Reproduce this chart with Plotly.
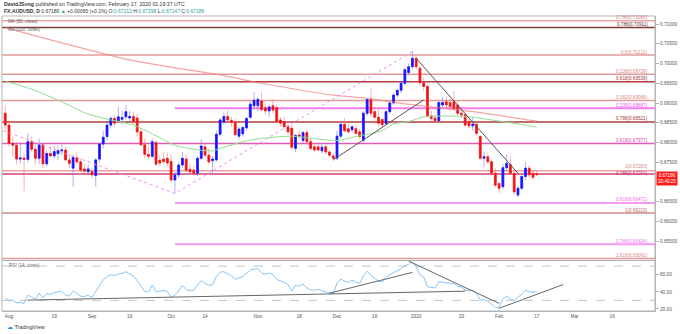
import pandas as pd
import plotly.graph_objects as go

# ---------------- data ----------------
holidays = ["2019-12-25", "2020-01-01"]
dates = [d.strftime("%Y-%m-%d") for d in pd.bdate_range("2019-07-31", "2020-02-17")
         if d.strftime("%Y-%m-%d") not in holidays]
axis_days = [d.strftime("%Y-%m-%d") for d in pd.bdate_range("2019-07-29", "2020-04-10")
             if d.strftime("%Y-%m-%d") not in holidays]

opens = [0.6874,
 0.6844, 0.6798, 0.6793, 0.6758, 0.6761, 0.6757, 0.6802, 0.6783, 0.6760, 0.6794, 0.6746, 0.6772, 0.6766, 0.6772, 0.6779, 0.6781, 0.6756, 0.6735, 0.6762, 0.6751, 0.6733, 0.6726,
 0.6726, 0.6716, 0.6758, 0.6796, 0.6815, 0.6844, 0.6861, 0.6855, 0.6859, 0.6865, 0.6862, 0.6866, 0.6862, 0.6827, 0.6794, 0.6770, 0.6765, 0.6800, 0.6755, 0.6758, 0.6760,
 0.6752, 0.6705, 0.6718, 0.6743, 0.6758, 0.6732, 0.6730, 0.6722, 0.6760, 0.6789, 0.6768, 0.6754, 0.6756, 0.6821, 0.6852, 0.6866, 0.6856, 0.6851, 0.6816, 0.6822, 0.6837, 0.6864, 0.6893,
 0.6893, 0.6905, 0.6888, 0.6880, 0.6893, 0.6888, 0.6857, 0.6853, 0.6840, 0.6836, 0.6785, 0.6819, 0.6805, 0.6825, 0.6802, 0.6789, 0.6789, 0.6779, 0.6789, 0.6776, 0.6766,
 0.6760, 0.6816, 0.6846, 0.6835, 0.6832, 0.6835, 0.6827, 0.6806, 0.6874, 0.6909, 0.6878, 0.6864, 0.6858, 0.6848, 0.6878, 0.6900, 0.6920, 0.6932, 0.6950, 0.6977, 0.6992,
 0.7013, 0.6988, 0.6951, 0.6942, 0.6867, 0.6862, 0.6855, 0.6895, 0.6903, 0.6901, 0.6903, 0.6895, 0.6874, 0.6870, 0.6853, 0.6842, 0.6846, 0.6815, 0.6760, 0.6764, 0.6751, 0.6722,
 0.6696, 0.6688, 0.6736, 0.6744, 0.6722, 0.6667, 0.6684, 0.6714, 0.6735, 0.6722, 0.67213]
highs = [0.6895,
 0.6857, 0.6815, 0.6800, 0.6798, 0.6772, 0.6823, 0.6815, 0.6795, 0.6810, 0.6800, 0.6780, 0.6790, 0.6790, 0.6792, 0.6795, 0.6790, 0.6770, 0.6770, 0.6775, 0.6760, 0.6745, 0.6745,
 0.6735, 0.6760, 0.6800, 0.6830, 0.6850, 0.6865, 0.6868, 0.6891, 0.6880, 0.6895, 0.6880, 0.6878, 0.6872, 0.6835, 0.6810, 0.6790, 0.6810, 0.6805, 0.6768, 0.6775, 0.6775,
 0.6770, 0.6725, 0.6750, 0.6775, 0.6770, 0.6745, 0.6740, 0.6765, 0.6808, 0.6795, 0.6785, 0.6765, 0.6830, 0.6862, 0.6875, 0.6882, 0.6865, 0.6860, 0.6840, 0.6842, 0.6865, 0.6905, 0.6928,
 0.6915, 0.6929, 0.6900, 0.6895, 0.6910, 0.6898, 0.6865, 0.6865, 0.6848, 0.6845, 0.6822, 0.6830, 0.6830, 0.6832, 0.6810, 0.6798, 0.6800, 0.6795, 0.6795, 0.6780, 0.6772,
 0.6830, 0.6850, 0.6862, 0.6848, 0.6845, 0.6845, 0.6835, 0.6880, 0.6912, 0.6939, 0.6890, 0.6885, 0.6862, 0.6882, 0.6905, 0.6925, 0.6936, 0.6955, 0.6990, 0.7000, 0.7032,
 0.7020, 0.6995, 0.6965, 0.6948, 0.6880, 0.6870, 0.6905, 0.6915, 0.6915, 0.6910, 0.6930, 0.6905, 0.6882, 0.6875, 0.6860, 0.6865, 0.6852, 0.6818, 0.6778, 0.6775, 0.6755, 0.6735,
 0.6700, 0.6745, 0.6770, 0.6765, 0.6728, 0.6690, 0.6718, 0.6750, 0.6742, 0.6730, 0.67298]
lows = [0.6832,
 0.6790, 0.6764, 0.6745, 0.6747, 0.6677, 0.6750, 0.6775, 0.6745, 0.6745, 0.6735, 0.6740, 0.6762, 0.6760, 0.6755, 0.6768, 0.6752, 0.6735, 0.6688, 0.6745, 0.6725, 0.6722, 0.6720,
 0.6709, 0.6688, 0.6750, 0.6785, 0.6805, 0.6835, 0.6840, 0.6850, 0.6845, 0.6858, 0.6850, 0.6845, 0.6815, 0.6790, 0.6760, 0.6758, 0.6760, 0.6740, 0.6740, 0.6745, 0.6740,
 0.6700, 0.6671, 0.6710, 0.6735, 0.6725, 0.6720, 0.6715, 0.6715, 0.6755, 0.6760, 0.6745, 0.6722, 0.6750, 0.6815, 0.6845, 0.6850, 0.6840, 0.6815, 0.6808, 0.6815, 0.6830, 0.6858, 0.6885,
 0.6880, 0.6878, 0.6870, 0.6865, 0.6875, 0.6850, 0.6840, 0.6835, 0.6820, 0.6780, 0.6775, 0.6808, 0.6798, 0.6795, 0.6780, 0.6775, 0.6776, 0.6772, 0.6770, 0.6762, 0.6754,
 0.6755, 0.6810, 0.6825, 0.6822, 0.6825, 0.6820, 0.6808, 0.6800, 0.6868, 0.6865, 0.6860, 0.6840, 0.6836, 0.6843, 0.6872, 0.6895, 0.6915, 0.6925, 0.6945, 0.6970, 0.6985,
 0.6985, 0.6945, 0.6930, 0.6862, 0.6850, 0.6850, 0.6850, 0.6890, 0.6885, 0.6880, 0.6880, 0.6868, 0.6862, 0.6840, 0.6835, 0.6830, 0.6818, 0.6755, 0.6738, 0.6745, 0.6715, 0.6685,
 0.6672, 0.6682, 0.6728, 0.6718, 0.6668, 0.6662, 0.6680, 0.6705, 0.6710, 0.6705, 0.67147]
closes = [0.6844,
 0.6798, 0.6793, 0.6758, 0.6761, 0.6757, 0.6802, 0.6783, 0.6760, 0.6794, 0.6746, 0.6772, 0.6766, 0.6777, 0.6779, 0.6781, 0.6756, 0.6747, 0.6762, 0.6751, 0.6730, 0.6728, 0.6733,
 0.6718, 0.6756, 0.6796, 0.6813, 0.6844, 0.6861, 0.6849, 0.6865, 0.6863, 0.6878, 0.6866, 0.6853, 0.6827, 0.6794, 0.6770, 0.6765, 0.6802, 0.6745, 0.6748, 0.6752, 0.6748,
 0.6705, 0.6718, 0.6743, 0.6760, 0.6730, 0.6726, 0.6722, 0.6760, 0.6791, 0.6768, 0.6751, 0.6758, 0.6821, 0.6857, 0.6866, 0.6857, 0.6851, 0.6820, 0.6834, 0.6838, 0.6861, 0.6897, 0.6907,
 0.6909, 0.6883, 0.6880, 0.6890, 0.6882, 0.6853, 0.6849, 0.6840, 0.6827, 0.6788, 0.6818, 0.6815, 0.6825, 0.6802, 0.6785, 0.6781, 0.6781, 0.6788, 0.6776, 0.6768, 0.6760,
 0.6816, 0.6846, 0.6830, 0.6827, 0.6840, 0.6823, 0.6815, 0.6874, 0.6909, 0.6874, 0.6864, 0.6849, 0.6845, 0.6878, 0.6900, 0.6920, 0.6932, 0.6950, 0.6984, 0.6992, 0.7013,
 0.6992, 0.6951, 0.6942, 0.6867, 0.6861, 0.6855, 0.6901, 0.6901, 0.6895, 0.6891, 0.6886, 0.6874, 0.6870, 0.6844, 0.6842, 0.6846, 0.6823, 0.6760, 0.6764, 0.6751, 0.6722, 0.6692,
 0.6684, 0.6736, 0.6747, 0.6722, 0.6675, 0.6684, 0.6714, 0.6735, 0.6718, 0.67121, 0.67186]

rsi = [33,
 30, 30, 27, 27.5, 26.5, 36, 34, 31, 38.5, 33, 38, 37, 39, 40, 40.5, 36, 35, 41, 38, 35, 34.5, 36,
 33.5, 40, 47.5, 54, 58, 60, 59, 61, 61.5, 63.5, 61, 58.5, 53, 47, 40.5, 40, 48, 40, 41, 41.5, 40.5,
 33.5, 36, 41, 47.5, 42.5, 41.5, 42, 48, 53, 50, 47.5, 48.5, 58, 63, 63.5, 61, 59, 54.5, 56.5, 57.5, 61, 65.5, 66.5,
 67, 62, 60.5, 62, 60, 54.5, 53, 51, 48.5, 41, 48, 46.5, 49, 44.5, 42, 42, 43, 41, 40, 38.5, 37.5,
 50, 55, 52.5, 51, 53.5, 51.5, 49.5, 58.5, 64, 59, 56, 52.5, 51.5, 57, 60, 62.5, 64, 67, 70.5, 72, 75,
 69, 60, 57, 46, 45.5, 44.5, 51.5, 51.5, 50.5, 50, 49.5, 46.5, 45.5, 42, 41.5, 42, 38.5, 30, 31, 29, 25.5, 22,
 21.5, 32, 35, 31.5, 29.5, 33, 37.5, 42, 40, 39.5, 40]

ma50_dates = ["2019-07-31", "2019-08-09", "2019-08-21", "2019-08-30", "2019-09-09", "2019-09-17",
              "2019-09-24", "2019-10-02", "2019-10-09", "2019-10-16", "2019-10-18", "2019-10-30",
              "2019-11-14", "2019-11-21", "2019-12-02", "2019-12-09", "2019-12-18", "2019-12-23",
              "2019-12-30", "2020-01-06", "2020-01-14", "2020-01-22", "2020-01-30", "2020-02-10",
              "2020-02-17"]
ma50_vals = [0.6955, 0.6935, 0.6903, 0.6872, 0.6857, 0.6844, 0.6822, 0.6793, 0.6783, 0.6779,
             0.6785, 0.6806, 0.6816, 0.6811, 0.6805, 0.6815, 0.6830, 0.6847, 0.6853, 0.6865,
             0.6867, 0.6865, 0.6857, 0.6847, 0.6839]
ma200_dates = ["2019-07-31", "2019-08-16", "2019-09-16", "2019-10-02", "2019-10-18", "2019-11-04",
               "2019-11-29", "2019-12-12", "2019-12-26", "2020-01-23", "2020-02-17"]
ma200_vals = [0.7091, 0.7060, 0.7009, 0.6989, 0.6971, 0.6950, 0.6920, 0.6912, 0.6899, 0.6878, 0.6854]

level_prices = [0.71080, 0.70911, 0.70212, 0.69729, 0.69539, 0.69066, 0.68867, 0.68521,
                0.67977, 0.67283, 0.67201, 0.66471, 0.66215, 0.65424, 0.65061]
level_labels = ["0.786(0.71080)", "0.786(0.70911)", "0.5(0.70212)", "0.236(0.69729)",
                "0.618(0.69539)", "0.382(0.69066)", "0.236(0.68867)", "0.786(0.68521)",
                "0.618(0.67977)", "1(0.67283)", "0.786(0.67201)", "0.618(0.66471)",
                "1(0.66215)", "0.786(0.65424)", "1.618(0.65061)"]
level_start = [None, None, None, None, None, None, "2019-10-02", None,
               None, None, None, "2019-10-02", None, "2019-10-02", None]

fib_path_dates = ["2019-07-29", "2019-10-02", "2019-12-31"]
fib_path_vals = [0.6835, 0.6671, 0.7030]
trend_up_dates = ["2019-11-29", "2020-01-06"]
trend_up_vals = [0.6756, 0.6908]
trend_dn_dates = ["2020-01-02", "2020-02-10"]
trend_dn_vals = [0.7013, 0.6722]

rsi_lines = [
    (["2019-08-08", "2020-01-21"], [30.35, 40.75]),
    (["2019-11-28", "2019-12-31"], [38.4, 62.7]),
    (["2019-12-30", "2020-02-03"], [75.8, 26.5]),
    (["2020-02-03", "2020-02-26"], [20.75, 48.5]),
]

tick_dates = ["2019-08-01", "2019-08-19", "2019-09-02", "2019-09-16", "2019-10-01", "2019-10-14",
              "2019-11-01", "2019-11-18", "2019-12-02", "2019-12-16", "2020-01-02", "2020-01-20",
              "2020-02-03", "2020-02-17", "2020-03-02", "2020-03-16"]
tick_text = ["Aug", "19", "Sep", "16", "Oct", "14", "Nov", "18", "Dec", "16", "2020", "20",
             "Feb", "17", "Mar", "16"]
# 0.67000 is hidden behind the live-price label in the reference
price_ticks = [0.655, 0.660, 0.665, 0.675, 0.680, 0.685, 0.690, 0.695, 0.700, 0.705, 0.710]
rsi_ticks = [20, 40, 60]

# ---------------- styles ----------------
level_colors = ["#eba3a3", "#7d3b3b", "#e59a9a", "#e59a9a", "#b23b3b", "#e59a9a", "#f27cf2",
                "#b23b3b", "#e05ab8", "#e6a0a0", "#d2427a", "#f59af5", "#d08a8a", "#f59af5",
                "#e59a9a"]
label_colors = ["#d98585", "#6b3030", "#d98585", "#d98585", "#a83232", "#d98585", "#ee55ee",
                "#a83232", "#d845b0", "#d98585", "#c83470", "#ee70ee", "#c07070", "#ee70ee",
                "#d98585"]
level_widths = [1.5, 1.5, 1.5, 1.5, 1.5, 1.5, 2, 1.5, 1.5, 1.5, 1.5, 2, 1.5, 2, 1.5]
label_shift = [0, 0, 0, 0, 0, 0, 0, 0, 0, 1, -2, 0, 0, 0, 0]
FONT = "Liberation Sans, Arial, sans-serif"
UP, DN = "#1414ff", "#f01414"
UPW, DNW = "rgba(110,110,255,0.55)", "rgba(255,110,110,0.55)"

fig = go.Figure()

# candles: wicks (light) then bodies (solid)
fig.add_trace(go.Candlestick(
    x=dates, open=opens, high=highs, low=lows, close=closes,
    increasing=dict(line=dict(color=UPW, width=1), fillcolor=UPW),
    decreasing=dict(line=dict(color=DNW, width=1), fillcolor=DNW),
    whiskerwidth=0, hoverinfo="skip", showlegend=False, xaxis="x", yaxis="y"))
body_hi = [max(o, c) for o, c in zip(opens, closes)]
body_lo = [min(o, c) for o, c in zip(opens, closes)]
fig.add_trace(go.Candlestick(
    x=dates, open=opens, high=body_hi, low=body_lo, close=closes,
    increasing=dict(line=dict(color=UP, width=0.6), fillcolor=UP),
    decreasing=dict(line=dict(color=DN, width=0.6), fillcolor=DN),
    whiskerwidth=0, hoverinfo="skip", showlegend=False, xaxis="x", yaxis="y"))

# moving averages
fig.add_trace(go.Scatter(x=ma50_dates, y=ma50_vals, mode="lines",
                         line=dict(color="#8fe08f", width=1, shape="spline", smoothing=0.8),
                         hoverinfo="skip", showlegend=False))
fig.add_trace(go.Scatter(x=ma200_dates, y=ma200_vals, mode="lines",
                         line=dict(color="rgba(240,125,125,0.7)", width=1.2, shape="spline", smoothing=0.6),
                         hoverinfo="skip", showlegend=False))

# drawn lines
fig.add_trace(go.Scatter(x=fib_path_dates, y=fib_path_vals, mode="lines",
                         line=dict(color="#f58cf5", width=1, dash="dot"),
                         hoverinfo="skip", showlegend=False))
for xs, ys in [(trend_up_dates, trend_up_vals), (trend_dn_dates, trend_dn_vals)]:
    fig.add_trace(go.Scatter(x=xs, y=ys, mode="lines", line=dict(color="#555555", width=1),
                             hoverinfo="skip", showlegend=False))

# RSI
fig.add_trace(go.Scatter(x=dates, y=rsi, mode="lines", line=dict(color="#86c5f7", width=1),
                         xaxis="x2", yaxis="y2", hoverinfo="skip", showlegend=False))
for xs, ys in rsi_lines:
    fig.add_trace(go.Scatter(x=xs, y=ys, mode="lines", line=dict(color="#666666", width=1),
                             xaxis="x2", yaxis="y2", hoverinfo="skip", showlegend=False))

shapes = []
annotations = []
for p, lab, st, col, lcol, w, sh in zip(level_prices, level_labels, level_start, level_colors,
                                        label_colors, level_widths, label_shift):
    if st is None:
        shapes.append(dict(type="line", xref="paper", yref="y", x0=0, x1=1, y0=p, y1=p,
                           line=dict(color=col, width=w), layer="below"))
    else:
        shapes.append(dict(type="line", xref="x", yref="y", x0=st, x1=axis_days[-1], y0=p, y1=p,
                           line=dict(color=col, width=w), layer="below"))
    annotations.append(dict(xref="paper", yref="y", x=0.9923, y=p, xanchor="right", yanchor="bottom",
                            text=lab, showarrow=False, font=dict(family=FONT, size=4.6, color=lcol),
                            yshift=-1.5 + sh))

for lvl in (70, 30):
    shapes.append(dict(type="line", xref="paper", yref="y2", x0=0, x1=1, y0=lvl, y1=lvl,
                       line=dict(color="#c4c4c4", width=1, dash="dash"), layer="below"))
# frame
shapes.append(dict(type="rect", xref="paper", yref="paper", x0=0, x1=1, y0=0, y1=1,
                   line=dict(color="#b4b4b4", width=1), layer="above"))

teal = "#26a69a"
annotations += [
    dict(xref="paper", yref="paper", x=0.0, y=1.0407, xanchor="left", yanchor="middle", showarrow=False,
         text="<b>DavidJSong</b> published on TradingView.com, February 17, 2020 01:19:37 UTC",
         font=dict(family=FONT, size=5.2, color="#333")),
    dict(xref="paper", yref="paper", x=0.0, y=1.017, xanchor="left", yanchor="middle", showarrow=False,
         text=("<b>FX:AUDUSD, D</b> 0.67186 <span style='color:%s'>▲</span> +0.00065 (+0.1%%) "
               "O:<span style='color:%s'>0.67213</span> H:<span style='color:%s'>0.67298</span> "
               "L:<span style='color:%s'>0.67147</span> C:<span style='color:%s'>0.67186</span>")
              % (teal, teal, teal, teal, teal),
         font=dict(family=FONT, size=5.0, color="#333")),
    dict(xref="paper", yref="paper", x=0.006, y=0.9797, xanchor="left", yanchor="middle", showarrow=False,
         text="MA (50, close)", font=dict(family=FONT, size=4.6, color="#666")),
    dict(xref="paper", yref="paper", x=0.006, y=0.9559, xanchor="left", yanchor="middle", showarrow=False,
         text="MA (200, close)", font=dict(family=FONT, size=4.6, color="#666")),
    dict(xref="paper", yref="paper", x=0.008, y=0.154, xanchor="left", yanchor="middle", showarrow=False,
         text="RSI (14, close)", font=dict(family=FONT, size=4.6, color="#666")),
    dict(xref="paper", yref="y", x=1.0, y=closes[-1], xanchor="left", yanchor="middle", showarrow=False,
         text="0.67186<br>20:40:25", bgcolor="#ff1a1a", borderpad=1, xshift=1, yshift=-4,
         font=dict(family=FONT, size=4.6, color="white")),
    dict(xref="paper", yref="paper", x=0.004, y=-0.054, xanchor="left", yanchor="middle", showarrow=False,
         text="<span style='color:#2196f3'>☁</span> TradingView",
         font=dict(family=FONT, size=5.5, color="#333")),
]

axis_common = dict(type="category", categoryorder="array", categoryarray=axis_days,
                   range=[1.14, 174.35], showgrid=False, zeroline=False)
fig.update_layout(
    width=680, height=334, margin=dict(l=2, r=25, t=16, b=23),
    paper_bgcolor="white", plot_bgcolor="white", showlegend=False,
    font=dict(family=FONT, size=5, color="#555"),
    xaxis=dict(**axis_common, domain=[0, 1], anchor="y", showticklabels=False, ticks="",
               showline=True, linecolor="#b4b4b4", linewidth=1, rangeslider=dict(visible=False)),
    xaxis2=dict(**axis_common, domain=[0, 1], anchor="y2", matches="x", tickmode="array",
                tickvals=tick_dates, ticktext=tick_text, ticks="", showline=True,
                linecolor="#b4b4b4", linewidth=1, tickfont=dict(family=FONT, size=4.8, color="#555"),
                rangeslider=dict(visible=False)),
    yaxis=dict(domain=[0.1729, 1], range=[0.650253, 0.712025], side="right", tickmode="array",
               tickvals=price_ticks, tickformat=".5f", ticks="outside", ticklen=3, tickcolor="#b4b4b4",
               showgrid=False, zeroline=False, showline=True, linecolor="#b4b4b4",
               tickfont=dict(family=FONT, size=4.8, color="#555")),
    yaxis2=dict(domain=[0, 0.1695], range=[17.6, 76], side="right", tickmode="array",
                tickvals=rsi_ticks, ticktext=["20.00", "40.00", "60.00"], ticks="outside", ticklen=3,
                tickcolor="#b4b4b4", showgrid=False, zeroline=False, showline=True, linecolor="#b4b4b4",
                tickfont=dict(family=FONT, size=4.8, color="#555")),
    shapes=shapes, annotations=annotations,
)

fig.write_html("out.html")
